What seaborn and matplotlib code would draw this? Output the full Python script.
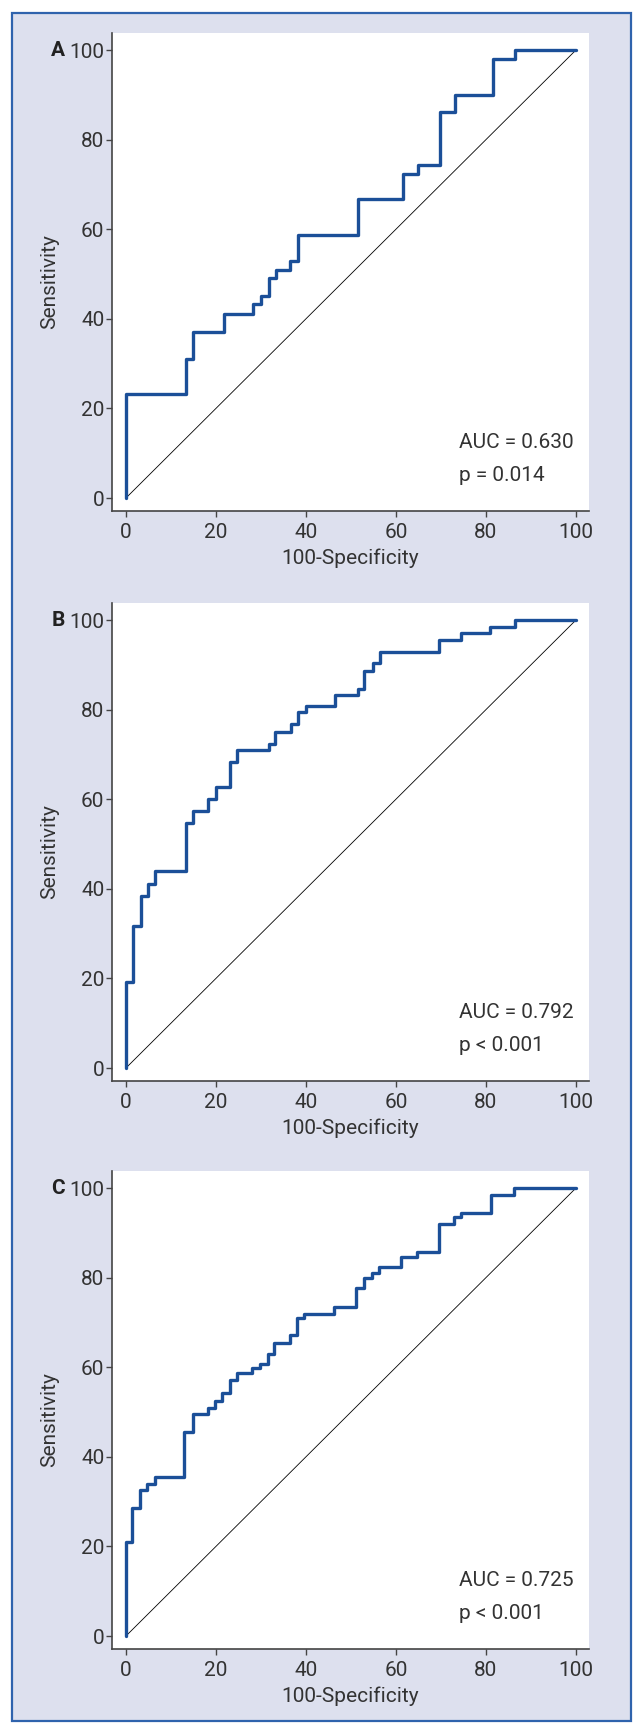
import matplotlib
matplotlib.use('Agg')
import matplotlib.pyplot as plt
import seaborn as sns
import pandas as pd
from matplotlib.patches import Rectangle

sns.set_style('white')
plt.rcParams['font.family'] = ['Liberation Sans Narrow', 'Roboto', 'DejaVu Sans']

# ROC corner points (100-Specificity, Sensitivity)
a_fpr = [0, 0, 13.3, 14.8, 21.7, 28.3, 30.0, 31.7, 33.3, 36.5, 38.3, 51.5, 61.6, 65.0, 69.7, 73.2, 81.5, 86.5, 100]
a_tpr = [0, 23.3, 31.1, 37.1, 41.0, 43.2, 45.2, 49.1, 50.9, 52.8, 58.6, 66.7, 72.4, 74.3, 86.2, 90.0, 98.0, 100, 100]

b_fpr = [0, 0, 1.5, 3.3, 4.8, 6.5, 13.3, 15.0, 18.2, 20.0, 23.1, 24.7, 31.7, 33.2, 36.6, 38.3, 40.0, 46.4,
         51.5, 53.0, 55.0, 56.5, 69.6, 74.5, 81.0, 86.5, 100]
b_tpr = [0, 19.3, 31.7, 38.5, 41.1, 43.9, 54.8, 57.4, 60.0, 62.8, 68.3, 71.0, 72.4, 75.0, 76.7, 79.4, 80.7, 83.2,
         84.7, 88.7, 90.3, 92.9, 95.5, 97.2, 98.5, 100, 100]

c_fpr = [0, 0, 1.4, 3.2, 4.6, 6.4, 13.0, 14.8, 18.2, 19.8, 21.4, 23.1, 24.6, 28.1, 29.8, 31.5, 33.0, 36.4, 38.0,
         39.6, 46.2, 51.1, 52.9, 54.6, 56.3, 61.2, 64.6, 69.6, 73.0, 74.5, 81.1, 86.3, 100]
c_tpr = [0, 21.0, 28.5, 32.6, 34.0, 35.6, 45.6, 49.5, 50.9, 52.4, 54.3, 57.2, 58.8, 59.8, 60.7, 62.9, 65.3, 67.2, 71.0,
         71.9, 73.4, 77.6, 79.9, 81.0, 82.4, 84.6, 85.8, 92.0, 93.5, 94.4, 98.5, 100, 100]

panels = ['A', 'B', 'C']
auc_text = ['AUC = 0.630', 'AUC = 0.792', 'AUC = 0.725']
p_text = ['p = 0.014', 'p < 0.001', 'p < 0.001']
ticks = [0, 20, 40, 60, 80, 100]

W, H = 643, 1734
fig = plt.figure(figsize=(W / 100, H / 100), dpi=100)
fig.patch.set_facecolor('white')
fig.patches.append(Rectangle((12 / W, 1 - 1721 / H), (631 - 12) / W, (1721 - 13) / H,
                             transform=fig.transFigure, facecolor='#dde0ee',
                             edgecolor='#2f63ad', linewidth=1.6, zorder=-5))

tops = [33, 603, 1171]
curves = [(a_fpr, a_tpr), (b_fpr, b_tpr), (c_fpr, c_tpr)]
grey = '#333333'
fs = 15

for i, (fpr, tpr) in enumerate(curves):
    top = tops[i]
    ax = fig.add_axes([112 / W, 1 - (top + 478) / H, 477 / W, 478 / H])
    ax.set_zorder(2)
    ax.set_facecolor('white')
    df = pd.DataFrame({'x': fpr, 'y': tpr})
    sns.lineplot(data=df, x='x', y='y', ax=ax, sort=False, estimator=None,
                 drawstyle='steps-post', color='#1b4f98', linewidth=2.4, zorder=3)
    sns.lineplot(x=[0, 100], y=[0, 100], ax=ax, color='black', linewidth=0.6, zorder=2)
    ax.set_xlim(-3.1, 102.9)
    ax.set_ylim(-2.9, 103.8)
    ax.set_xticks(ticks)
    ax.set_yticks(ticks)
    for s in ['top', 'right']:
        ax.spines[s].set_visible(False)
    for s in ['left', 'bottom']:
        ax.spines[s].set_color('#444444')
        ax.spines[s].set_linewidth(1.2)
    ax.tick_params(axis='both', direction='out', length=4.5, width=1.0, color='#444444',
                   labelsize=fs, labelcolor=grey, left=True, bottom=True)
    ax.tick_params(axis='y', pad=1)
    ax.tick_params(axis='x', pad=4)
    ax.set_xlabel('100-Specificity', fontsize=fs, color=grey)
    ax.set_ylabel('Sensitivity', fontsize=fs, color=grey)
    ax.xaxis.set_label_coords(0.5, -0.078)
    ax.yaxis.set_label_coords(-0.11, 0.48)
    ax.text(-13.6, 100, panels[i], fontsize=fs, fontweight='bold', color='#222222',
            ha='right', va='center', clip_on=False)
    ax.text(74, 12.3, auc_text[i], fontsize=fs, color=grey, ha='left', va='center')
    ax.text(74, 5.1, p_text[i], fontsize=fs, color=grey, ha='left', va='center')

fig.savefig('out.png', dpi=100)
